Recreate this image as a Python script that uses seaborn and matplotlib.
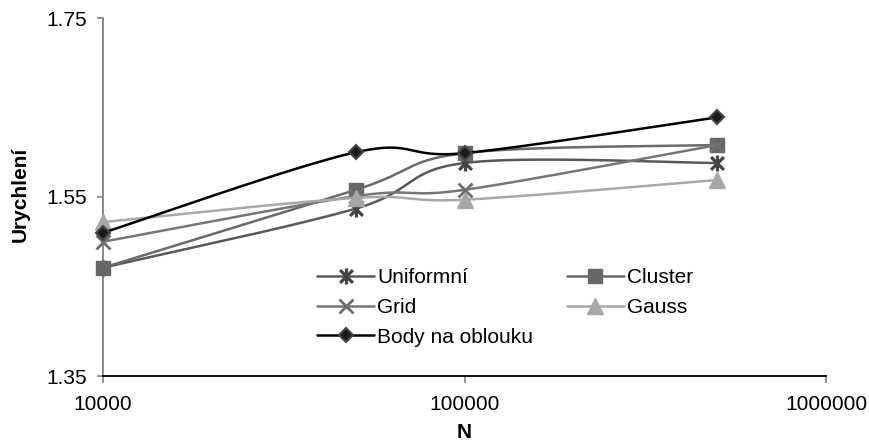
import numpy as np
import matplotlib
matplotlib.use("Agg")
import matplotlib.pyplot as plt
from matplotlib.path import Path
from matplotlib.lines import Line2D
import seaborn as sns

# Speed-up measured for each point distribution
n_values = [10000, 50000, 100000, 500000]
uniformni = [1.471, 1.537, 1.588, 1.588]
cluster = [1.471, 1.558, 1.599, 1.608]
grid = [1.500, 1.551, 1.558, 1.608]
gauss = [1.522, 1.549, 1.547, 1.569]
body_na_oblouku = [1.510, 1.600, 1.599, 1.639]
series_names = ["Uniformní", "Cluster", "Grid", "Gauss", "Body na oblouku"]

y_ticks = [1.35, 1.55, 1.75]
y_tick_labels = ["1.35", "1.55", "1.75"]
x_ticks = [10000, 100000, 1000000]
x_tick_labels = ["10000", "100000", "1000000"]

sns.set_theme(style="white")
plt.rcParams["font.family"] = ["Liberation Sans", "DejaVu Sans"]

FS = 15

# six-spoke asterisk: vertical bar plus two diagonals
asterisk = Path(
    [(0, -1), (0, 1), (-0.8, -0.8), (0.8, 0.8), (-0.8, 0.8), (0.8, -0.8)],
    [Path.MOVETO, Path.LINETO] * 3,
)

styles = {
    "Uniformní": dict(color="#595959", marker=asterisk, ms=11.5, mfc="none", mec="#444444", mew=2.3),
    "Cluster": dict(color="#6a6a6a", marker="s", ms=10.5, mfc="#666666", mec="#666666", mew=1),
    "Grid": dict(color="#767676", marker="x", ms=10.5, mfc="none", mec="#6e6e6e", mew=2.0),
    "Gauss": dict(color="#a8a8a8", marker="^", ms=11, mfc="#a6a6a6", mec="#a6a6a6", mew=1),
    "Body na oblouku": dict(color="#000000", marker="D", ms=7, mfc="#1a1a1a", mec="#444444", mew=1.5),
}
values = {
    "Uniformní": uniformni,
    "Cluster": cluster,
    "Grid": grid,
    "Gauss": gauss,
    "Body na oblouku": body_na_oblouku,
}


def smooth_curve(xs, ys, steps=60):
    """Bezier smoothing through the points, computed in log10(x) space."""
    lx = np.log10(np.asarray(xs, float))
    y = np.asarray(ys, float)
    n = len(lx)
    out_x, out_y = [], []
    t = np.linspace(0, 1, steps)
    for i in range(n - 1):
        a = max(i - 1, 0)
        b = min(i + 2, n - 1)
        c1x = lx[i] + (lx[i + 1] - lx[a]) / 6
        c1y = y[i] + (y[i + 1] - y[a]) / 6
        c2x = lx[i + 1] - (lx[b] - lx[i]) / 6
        c2y = y[i + 1] - (y[b] - y[i]) / 6
        bx = (1 - t) ** 3 * lx[i] + 3 * (1 - t) ** 2 * t * c1x + 3 * (1 - t) * t ** 2 * c2x + t ** 3 * lx[i + 1]
        by = (1 - t) ** 3 * y[i] + 3 * (1 - t) ** 2 * t * c1y + 3 * (1 - t) * t ** 2 * c2y + t ** 3 * y[i + 1]
        out_x.append(bx)
        out_y.append(by)
    return 10 ** np.concatenate(out_x), np.concatenate(out_y)


fig = plt.figure(figsize=(8.69, 4.47), dpi=100)
ax = fig.add_axes([103 / 869, 1 - 376 / 447, (826 - 103) / 869, (376 - 18) / 447])
ax.set_xscale("log")

LW = 1.8
for k, name in enumerate(series_names):
    st = styles[name]
    sx, sy = smooth_curve(n_values, values[name])
    sns.lineplot(x=sx, y=sy, sort=False, estimator=None, color=st["color"],
                 linewidth=LW, ax=ax, zorder=3 + 2 * k)
    ax.plot(n_values, values[name], linestyle="none", marker=st["marker"], ms=st["ms"],
            mfc=st["mfc"], mec=st["mec"], mew=st["mew"], zorder=4 + 2 * k, clip_on=False)

ax.set_xlim(10000, 1000000)
ax.set_ylim(1.35, 1.75)
ax.set_xticks(x_ticks)
ax.set_xticklabels(x_tick_labels)
ax.xaxis.set_minor_locator(matplotlib.ticker.NullLocator())
ax.set_yticks(y_ticks)
ax.set_yticklabels(y_tick_labels)

for side in ("top", "right"):
    ax.spines[side].set_visible(False)
ax.spines["left"].set_color("#808080")
ax.spines["left"].set_linewidth(1.3)
ax.spines["bottom"].set_color("#000000")
ax.spines["bottom"].set_linewidth(1.3)
ax.tick_params(axis="y", direction="out", length=4.5, width=1.2, color="#808080",
               labelsize=FS, pad=7, labelcolor="black", left=True)
ax.tick_params(axis="x", direction="out", length=5, width=1.2, color="#808080",
               labelsize=FS, pad=9, labelcolor="black", bottom=True)
ax.grid(False)

ax.set_xlabel("N", fontsize=FS, fontweight="bold", color="black")
ax.set_ylabel("Urychlení", fontsize=FS, fontweight="bold", color="black")
ax.xaxis.set_label_coords(0.5, -(432 - 376) / 358)
ax.xaxis.label.set_va("center")
ax.yaxis.set_label_coords(-(103 - 20) / 723, (376 - 194) / 358)
ax.yaxis.label.set_va("center")

handles = {}
for name in series_names:
    st = styles[name]
    handles[name] = Line2D([], [], color=st["color"], linewidth=LW, marker=st["marker"],
                           ms=st["ms"], mfc=st["mfc"], mec=st["mec"], mew=st["mew"])
order = ["Uniformní", "Grid", "Body na oblouku", "Cluster", "Gauss"]
leg = ax.legend([handles[n] for n in order], order, ncol=2, frameon=False,
                loc="upper left", bbox_to_anchor=(317 / 869, 1 - 268 / 447),
                bbox_transform=fig.transFigure, borderaxespad=0, borderpad=0,
                fontsize=FS, handlelength=2.75, handletextpad=0.15,
                columnspacing=1.6, labelspacing=0.52)
for txt in leg.get_texts():
    txt.set_color("black")

fig.savefig("out.png", dpi=100)
